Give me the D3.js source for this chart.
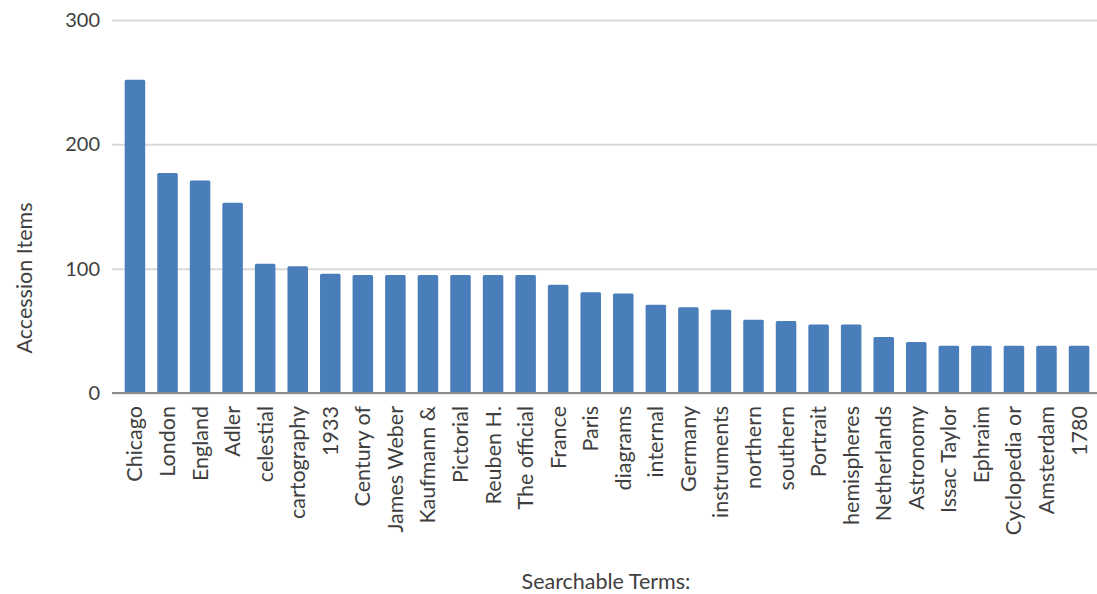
<!DOCTYPE html>
<html>
<head>
<meta charset="utf-8">
<script src="https://cdn.jsdelivr.net/npm/d3@7"></script>
<style>
  body { margin: 0; background: #fff; }
  text { font-family: Lato, "Open Sans", sans-serif; fill: #3f3f3f; }
</style>
</head>
<body>
<svg id="chart" width="1097" height="594"></svg>
<script>
// Searchable terms and the number of accession items for each
const categories = [
  "Chicago", "London", "England", "Adler", "celestial", "cartography", "1933",
  "Century of", "James Weber", "Kaufmann &", "Pictorial", "Reuben H.", "The official",
  "France", "Paris", "diagrams", "internal", "Germany", "instruments", "northern",
  "southern", "Portrait", "hemispheres", "Netherlands", "Astronomy", "Issac Taylor",
  "Ephraim", "Cyclopedia or", "Amsterdam", "1780"
];
const values = [
  252, 177, 171, 153, 104, 102, 96,
  95, 95, 95, 95, 95, 95,
  87, 81, 80, 71, 69, 67, 59,
  58, 55, 55, 45, 41, 38,
  38, 38, 38, 38
];
const yTicks = [0, 100, 200, 300];
const yTitle = "Accession Items";
const xTitle = "Searchable Terms:";

const svg = d3.select("#chart");
const plot = { left: 112, right: 1102, top: 20, bottom: 393 };

const x = d3.scaleBand()
  .domain(categories)
  .range([plot.left, plot.right])
  .paddingInner(0.37)
  .paddingOuter(0.39);

const y = d3.scaleLinear()
  .domain([0, 300])
  .range([plot.bottom, plot.top]);

// horizontal gridlines with value labels
const yAxis = d3.axisLeft(y)
  .tickValues(yTicks)
  .tickSize(-(plot.right - plot.left))
  .tickPadding(12)
  .tickFormat(d3.format("d"));

const gy = svg.append("g")
  .attr("transform", `translate(${plot.left},0)`)
  .call(yAxis);
gy.select(".domain").remove();
gy.selectAll(".tick line").attr("stroke", "#d9d9d9").attr("stroke-width", 2);
gy.selectAll(".tick text")
  .attr("x", -12)
  .style("font-size", "20px")
  .style("fill", "#3f3f3f");

// bars
svg.append("g")
  .selectAll("rect")
  .data(categories.map((c, i) => ({ c, v: values[i] })))
  .join("rect")
  .attr("x", d => x(d.c))
  .attr("y", d => y(d.v))
  .attr("width", x.bandwidth())
  .attr("height", d => y(0) - y(d.v))
  .attr("rx", 1.5)
  .attr("fill", "#4a7ebb");

// category axis with rotated labels
const xAxis = d3.axisBottom(x).tickSize(0).tickPadding(0);
const gx = svg.append("g")
  .attr("transform", `translate(0,${plot.bottom})`)
  .call(xAxis);
gx.select(".domain").attr("stroke", "#8c8c8c").attr("stroke-width", 2)
  .attr("d", `M${plot.left},0H${plot.right}`);
gx.selectAll(".tick text")
  .attr("transform", "rotate(-90)")
  .attr("x", -13)
  .attr("y", 0)
  .attr("dy", "0.35em")
  .attr("text-anchor", "end")
  .style("font-size", "21.5px")
  .style("fill", "#3f3f3f");

// axis titles
svg.append("text")
  .attr("transform", "translate(24,278) rotate(-90)")
  .attr("text-anchor", "middle")
  .attr("dy", "0.35em")
  .style("font-size", "21.5px")
  .text(yTitle);

svg.append("text")
  .attr("x", 606)
  .attr("y", 581)
  .attr("text-anchor", "middle")
  .attr("dy", "0.35em")
  .style("font-size", "21.5px")
  .text(xTitle);
</script>
</body>
</html>
